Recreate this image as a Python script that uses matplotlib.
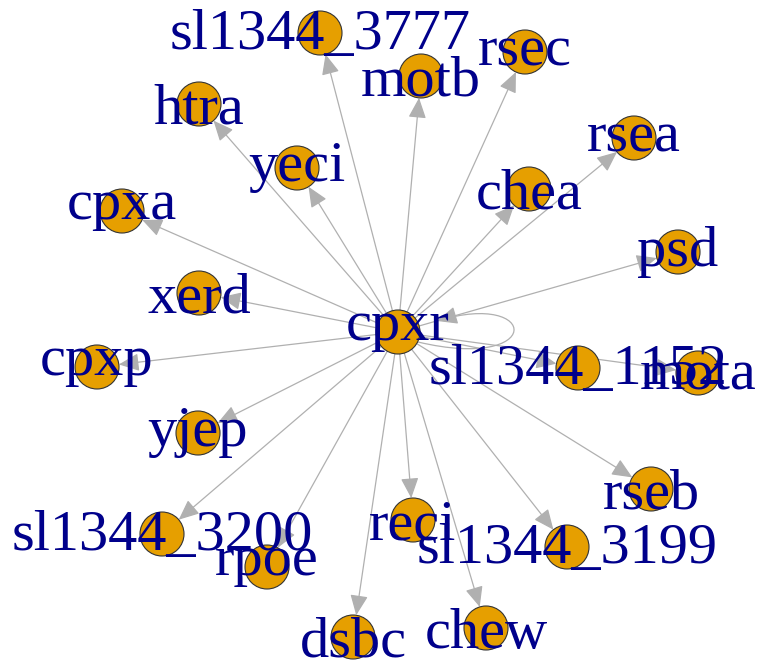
import numpy as np
import matplotlib
matplotlib.use("Agg")
import matplotlib.pyplot as plt
from matplotlib.patches import Circle, FancyArrowPatch
from matplotlib.path import Path
from matplotlib.textpath import TextPath
from matplotlib.font_manager import FontProperties

# Nodes and layout (layout units = output pixels, y grows downward)
names = ["cpxr", "sl1344_3777", "htra", "yeci", "cpxa", "xerd", "motb", "rsec",
         "rsea", "chea", "psd", "cpxp", "yjep", "sl1344_3200", "rpoe", "dsbc",
         "sl1344_1152", "mota", "rseb", "reci", "sl1344_3199", "chew"]
lay_x = [398, 320, 199, 297, 122, 199, 421, 525, 634, 529, 678, 97, 198, 162,
         267, 353, 578, 698, 651, 413, 567, 486]
lay_y = [332, 33, 104, 168, 211, 293, 76, 52, 138, 189, 252, 367, 433, 534,
         567, 637, 368, 373, 489, 520, 547, 628]

# Edges (cpxr regulates everything, plus a self-loop)
src = ["cpxr"] * 21
dst = ["sl1344_3777", "htra", "yeci", "cpxa", "xerd", "motb", "rsec", "rsea",
       "chea", "psd", "cpxp", "yjep", "sl1344_3200", "rpoe", "dsbc",
       "sl1344_1152", "mota", "rseb", "reci", "sl1344_3199", "chew"]
loops = ["cpxr"]

pos = {n: (x, y) for n, x, y in zip(names, lay_x, lay_y)}
r = 22  # vertex radius
edge_col = "#B0B0B0"

fig = plt.figure(figsize=(7.6, 6.65), dpi=100)
ax = fig.add_axes([0, 0, 1, 1])
ax.set_xlim(0, 760)
ax.set_ylim(665, 0)
ax.axis("off")

arrow = "-|>,head_length=12.5,head_width=5.5"
for s, d in zip(src, dst):
    (x0, y0), (x1, y1) = pos[s], pos[d]
    v = np.array([x1 - x0, y1 - y0], dtype=float)
    u = v / np.hypot(*v)
    a = np.array([x0, y0]) + u * r
    b = np.array([x1, y1]) - u * r
    ax.add_patch(FancyArrowPatch(a, b, arrowstyle=arrow, mutation_scale=1,
                                 color=edge_col, lw=0.9, shrinkA=0, shrinkB=0,
                                 zorder=1))

# self loop
for n in loops:
    cx, cy = pos[n]
    loop = Path([(cx + 20, cy + 10), (cx + 147, cy + 40),
                 (cx + 142, cy - 42), (cx + 39, cy - 11)],
                [Path.MOVETO, Path.CURVE4, Path.CURVE4, Path.CURVE4])
    ax.add_patch(FancyArrowPatch(path=loop, arrowstyle=arrow, mutation_scale=1,
                                 color=edge_col, lw=0.9, zorder=1))

for n in names:
    ax.add_patch(Circle(pos[n], r, facecolor="#E69F00", edgecolor="#333333",
                        lw=0.8, zorder=2))

# labels: centre the ink box on the vertex, like R does
fp = FontProperties(family="Liberation Serif", size=42)
for n in names:
    ext = TextPath((0, 0), n, prop=fp).get_extents()
    dy = -(ext.y0 + ext.y1) / 2
    ax.annotate(n, pos[n], xytext=(0, dy), textcoords="offset points",
                ha="center", va="baseline", color="#00008B",
                fontproperties=fp, zorder=3)

fig.savefig("out.png", dpi=100)
